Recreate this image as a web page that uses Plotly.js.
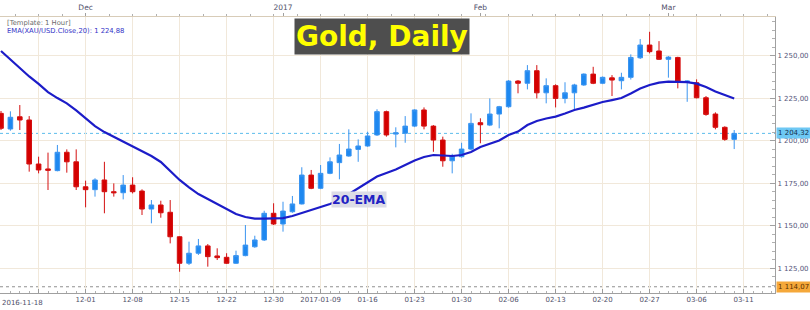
<!DOCTYPE html>
<html>
<head>
<meta charset="utf-8">
<script src="https://cdn.plot.ly/plotly-3.0.1.min.js"></script>
<style>
html,body{margin:0;padding:0;background:#fff;}
#chart{width:810px;height:310px;}
</style>
</head>
<body>
<div id="chart"></div>
<script>
// ---- data ----
const dates = [
 '2016-11-18','2016-11-21','2016-11-22','2016-11-23','2016-11-24','2016-11-25','2016-11-28','2016-11-29','2016-11-30',
 '2016-12-01','2016-12-02','2016-12-05','2016-12-06','2016-12-07','2016-12-08','2016-12-09','2016-12-12','2016-12-13',
 '2016-12-14','2016-12-15','2016-12-16','2016-12-19','2016-12-20','2016-12-21','2016-12-22','2016-12-23','2016-12-27',
 '2016-12-28','2016-12-29','2016-12-30','2017-01-03','2017-01-04','2017-01-05','2017-01-06','2017-01-09','2017-01-10',
 '2017-01-11','2017-01-12','2017-01-13','2017-01-16','2017-01-17','2017-01-18','2017-01-19','2017-01-20','2017-01-23',
 '2017-01-24','2017-01-25','2017-01-26','2017-01-27','2017-01-30','2017-01-31','2017-02-01','2017-02-02','2017-02-03',
 '2017-02-06','2017-02-07','2017-02-08','2017-02-09','2017-02-10','2017-02-13','2017-02-14','2017-02-15','2017-02-16',
 '2017-02-17','2017-02-20','2017-02-21','2017-02-22','2017-02-23','2017-02-24','2017-02-27','2017-02-28','2017-03-01',
 '2017-03-02','2017-03-03','2017-03-06','2017-03-07','2017-03-08','2017-03-09','2017-03-10'
];
const openP = [
 1216.1,1206.9,1214.1,1212.2,1186.3,1183.4,1182.4,1193.2,1187.6,
 1172.9,1171.2,1176.9,1170.0,1169.4,1173.9,1170.4,1159.8,1162.2,
 1157.9,1143.5,1127.9,1133.8,1138.1,1132.2,1131.4,1127.9,1132.4,
 1137.6,1141.6,1157.3,1151.0,1158.2,1162.8,1179.8,1172.0,1180.8,
 1187.1,1191.0,1194.9,1196.9,1203.4,1217.1,1203.9,1204.4,1208.6,
 1218.1,1208.6,1200.4,1188.2,1190.6,1195.1,1210.6,1209.2,1215.7,
 1220.0,1235.1,1233.8,1241.2,1228.2,1232.4,1224.9,1228.2,1232.8,
 1239.2,1233.8,1237.0,1235.3,1237.3,1248.8,1256.3,1252.8,1247.9,
 1249.0,1234.5,1234.1,1225.3,1215.7,1207.9,1200.8
];
const highP = [
 1217.5,1217.3,1221.0,1214.5,1190.6,1193.0,1197.5,1194.9,1194.9,
 1176.5,1177.9,1187.6,1174.9,1179.8,1178.5,1171.4,1165.1,1164.7,
 1165.1,1143.8,1140.6,1142.2,1139.2,1136.7,1133.8,1135.3,1150.4,
 1144.1,1158.8,1163.2,1164.1,1167.5,1184.4,1182.8,1185.7,1190.2,
 1198.1,1206.7,1200.8,1205.3,1218.5,1217.7,1207.9,1214.5,1218.5,
 1219.6,1209.2,1202.4,1192.3,1198.8,1216.1,1213.2,1224.9,1220.5,
 1235.7,1235.7,1244.5,1244.5,1236.7,1233.2,1234.4,1233.5,1239.6,
 1243.5,1237.8,1238.6,1240.0,1250.8,1259.8,1264.1,1258.6,1249.8,
 1249.4,1235.5,1236.1,1226.3,1216.7,1208.5,1206.3
];
const lowP = [
 1206.3,1205.9,1206.3,1181.8,1180.8,1171.0,1182.0,1181.2,1171.0,
 1160.8,1167.1,1157.3,1167.1,1165.5,1169.0,1156.3,1151.4,1154.7,
 1139.6,1122.9,1126.9,1132.8,1125.9,1129.8,1127.5,1127.5,1132.0,
 1137.0,1141.0,1150.4,1146.5,1157.6,1162.5,1171.5,1171.5,1180.3,
 1177.3,1190.6,1187.6,1196.4,1202.8,1202.4,1196.1,1198.8,1208.0,
 1206.7,1193.5,1184.7,1180.8,1190.0,1194.5,1198.5,1208.6,1207.3,
 1219.4,1227.9,1230.2,1224.9,1222.0,1219.6,1222.0,1218.1,1232.3,
 1233.3,1233.3,1226.3,1230.2,1236.0,1248.1,1251.4,1247.5,1237.1,
 1230.8,1222.9,1224.9,1214.7,1206.7,1200.0,1195.1
];
const closeP = [
 1207.3,1213.8,1212.2,1186.3,1182.8,1182.6,1193.2,1187.6,1172.9,
 1171.2,1176.9,1170.0,1169.4,1173.9,1170.0,1159.8,1162.2,1157.6,
 1143.5,1127.9,1133.8,1138.1,1131.8,1131.2,1127.9,1132.4,1138.6,
 1141.6,1157.3,1151.0,1158.6,1162.8,1179.8,1172.0,1180.8,1187.6,
 1191.6,1195.1,1196.9,1202.8,1217.1,1203.4,1204.7,1208.6,1218.1,
 1208.6,1200.4,1188.2,1191.0,1195.1,1210.2,1209.4,1215.7,1220.0,
 1235.1,1233.8,1241.2,1228.2,1232.4,1224.9,1228.2,1232.8,1239.2,
 1233.8,1237.3,1235.7,1237.3,1249.0,1256.3,1252.4,1247.9,1249.2,
 1235.1,1235.1,1225.3,1215.5,1207.9,1200.8,1204.3
];
const ema20 = [
 1252.8,1247.8,1242.8,1237.8,1233.4,1228.6,1225.1,1222.0,1217.8,
 1213.1,1208.6,1205.1,1202.2,1199.5,1196.6,1193.9,1191.0,1187.5,
 1182.2,1176.9,1172.5,1168.6,1165.7,1162.7,1159.5,1156.9,1155.1,
 1154.2,1154.2,1154.2,1154.5,1155.7,1157.5,1159.2,1161.0,1162.8,
 1165.1,1168.6,1172.2,1175.7,1178.9,1181.0,1183.1,1185.7,1188.4,
 1190.4,1191.6,1191.3,1191.0,1191.6,1193.4,1196.3,1198.1,1200.1,
 1203.4,1205.4,1209.2,1211.6,1213.1,1214.2,1216.0,1218.1,1219.5,
 1221.3,1222.8,1223.9,1225.1,1227.8,1230.7,1232.8,1234.2,1234.8,
 1234.8,1234.5,1233.6,1231.6,1228.9,1226.9,1224.9
];
const xTickIdx    = [4, 9, 14, 19, 24, 29, 34, 39, 44, 49, 54, 59, 64, 69, 74, 79];
const xTickLabels = ['', '12-01', '12-08', '12-15', '12-22', '12-30', '2017-01-09', '01-16', '01-23', '01-30', '02-06', '02-13', '02-20', '02-27', '03-06', '03-11'];
const firstDateLabel = '2016-11-18';
const monthTickIdx    = [9, 30, 51, 71];
const monthTickLabels = ['Dec', '2017', 'Feb', 'Mar'];
const yTickVals   = [1125, 1150, 1175, 1200, 1225, 1250];
const yTickLabels = ['1 125,00', '1 150,00', '1 175,00', '1 200,00', '1 225,00', '1 250,00'];
const lastPrice = 1204.32;
const lowMarker = 1114.07;
const lastEma = 1224.88;

// ---- chart ----
const idx = dates.map((d, i) => i);
const fmt = v => { const s = v.toFixed(2).replace('.', ','); const p = s.split(',');
  return p[0].replace(/\B(?=(\d{3})+(?!\d))/g, ' ') + ',' + p[1]; };

const FONT = 'DejaVu Sans, Verdana, sans-serif';
const XR = [-0.106, 82.34];

const traces = [
  {
    type: 'candlestick', x: idx, open: openP, high: highP, low: lowP, close: closeP,
    text: dates, hoverinfo: 'text',
    increasing: { line: { color: '#3a94f0', width: 1 }, fillcolor: '#1e88f0' },
    decreasing: { line: { color: '#d41010', width: 1 }, fillcolor: '#d40000' },
    whiskerwidth: 0, showlegend: false
  },
  {
    type: 'scatter', mode: 'lines', x: idx, y: ema20,
    line: { color: '#1c1cc8', width: 2.2 }, hoverinfo: 'skip', showlegend: false
  },
  {
    type: 'scatter', mode: 'markers', x: monthTickIdx, y: monthTickIdx.map(() => 1.016),
    xaxis: 'x2', yaxis: 'y2', cliponaxis: false,
    marker: { symbol: 'triangle-down', size: 7, color: '#f0a030' },
    hoverinfo: 'skip', showlegend: false
  }
];

const layout = {
  width: 810, height: 310,
  margin: { l: 0, r: 35, t: 17, b: 17, pad: 0 },
  paper_bgcolor: '#ffffff', plot_bgcolor: '#ffffff',
  showlegend: false,
  xaxis: {
    type: 'linear', range: XR, rangeslider: { visible: false },
    tickmode: 'array', tickvals: xTickIdx, ticktext: xTickLabels,
    ticks: 'inside', ticklen: 4, tickcolor: '#9a9a9a', tickwidth: 1,
    showgrid: true, gridcolor: '#f1e8da', gridwidth: 1,
    showline: true, linecolor: '#a0a0a0', linewidth: 1, zeroline: false,
    tickfont: { family: FONT, size: 7, color: '#50506a' },
    minor: { tickmode: 'linear', tick0: 0, dtick: 1, ticks: 'inside', ticklen: 2, tickcolor: '#b0b0b0', showgrid: false },
    fixedrange: true
  },
  xaxis2: {
    type: 'linear', range: XR, overlaying: 'x', side: 'top', anchor: 'y2',
    tickmode: 'array', tickvals: monthTickIdx, ticktext: monthTickLabels,
    ticks: 'outside', ticklen: 3, tickcolor: '#a0a0a0',
    showgrid: false, showline: true, linecolor: '#d8ccb8', linewidth: 1, zeroline: false,
    tickfont: { family: FONT, size: 7.5, color: '#50506a' },
    minor: { tickmode: 'linear', tick0: 1.5, dtick: 2.5, ticks: 'outside', ticklen: 2, tickcolor: '#b0b0b0', showgrid: false },
    fixedrange: true
  },
  yaxis: {
    side: 'right', range: [1110.4, 1272.8],
    tickmode: 'array', tickvals: yTickVals, ticktext: yTickLabels,
    ticks: 'inside', ticklen: 5, tickcolor: '#a0a0a0',
    showgrid: true, gridcolor: '#f1e8da', gridwidth: 1,
    showline: true, linecolor: '#a0a0a0', linewidth: 1, zeroline: false,
    tickfont: { family: FONT, size: 7, color: '#55557a' },
    minor: { tickmode: 'linear', tick0: 1110, dtick: 5, ticks: 'inside', ticklen: 3, tickcolor: '#b0b0b0', showgrid: false },
    fixedrange: true
  },
  yaxis2: {
    overlaying: 'y', range: [0, 1], visible: false, fixedrange: true
  },
  shapes: [
    { type: 'line', xref: 'paper', x0: 0, x1: 1, yref: 'y', y0: lastPrice, y1: lastPrice,
      line: { color: '#5cbcec', width: 1, dash: 'dot' }, layer: 'below' },
    { type: 'line', xref: 'paper', x0: 0, x1: 1, yref: 'y', y0: lowMarker, y1: lowMarker,
      line: { color: '#909090', width: 1, dash: 'dot' }, layer: 'below' }
  ],
  annotations: [
    { xref: 'paper', yref: 'paper', x: 0.4929, y: 0.9293, xanchor: 'center', yanchor: 'middle',
      text: '<b>Gold, Daily</b>', showarrow: false,
      font: { family: FONT, size: 28, color: '#ffff00' }, bgcolor: '#4e4e4e', borderpad: 1 },
    { xref: 'paper', yref: 'paper', x: 0.006, y: 0.978, xanchor: 'left', yanchor: 'middle',
      text: '[Template: 1 Hour]', showarrow: false, font: { family: FONT, size: 6.8, color: '#6a6a6a' } },
    { xref: 'paper', yref: 'paper', x: 0.006, y: 0.949, xanchor: 'left', yanchor: 'middle',
      text: 'EMA(XAU/USD.Close,20): ' + fmt(lastEma), showarrow: false, font: { family: FONT, size: 6.8, color: '#3535c8' } },
    { xref: 'x', yref: 'y', x: 38.1, y: 1165.4, xanchor: 'center', yanchor: 'middle',
      text: '<b>20-EMA</b>', showarrow: false, font: { family: FONT, size: 12.5, color: '#2222c4' },
      bgcolor: '#dcdce6', borderpad: 0 },
    { xref: 'paper', yref: 'y', x: 1, y: lastPrice, xanchor: 'left', yanchor: 'middle', xshift: 1,
      text: fmt(lastPrice), showarrow: false, font: { family: FONT, size: 7, color: '#15304a' },
      bgcolor: '#6ec8f4', borderpad: 1 },
    { xref: 'paper', yref: 'y', x: 1, y: lowMarker, xanchor: 'left', yanchor: 'middle', xshift: 1,
      text: fmt(lowMarker), showarrow: false, font: { family: FONT, size: 7, color: '#5a3000' },
      bgcolor: '#f5a83a', borderpad: 1 },
    { xref: 'paper', yref: 'paper', x: 0, y: -0.036, xanchor: 'left', yanchor: 'middle',
      text: firstDateLabel, showarrow: false, font: { family: FONT, size: 7, color: '#50506a' } }
  ]
};

Plotly.newPlot('chart', traces, layout, { displayModeBar: false, staticPlot: true });
</script>
</body>
</html>
